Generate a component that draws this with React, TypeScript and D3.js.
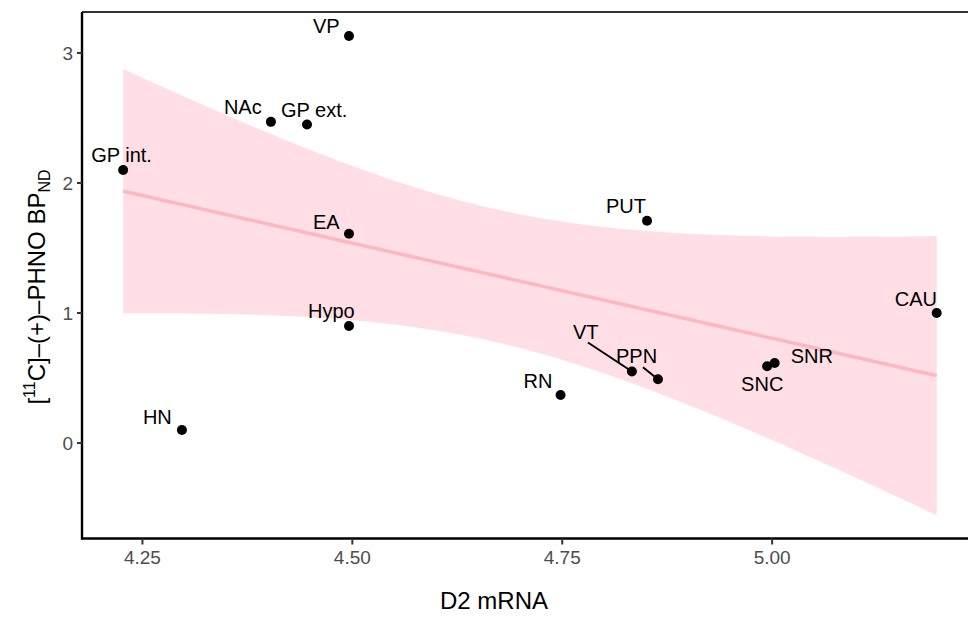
import React from "react";
import * as d3 from "d3";

const WIDTH = 968;
const HEIGHT = 622;

// regions, D2 mRNA and PHNO binding
const regions = ["GP int.", "HN", "NAc", "GP ext.", "VP", "EA", "Hypo", "RN", "VT", "PUT", "PPN", "SNC", "SNR", "CAU"];
const d2mrna = [4.227, 4.297, 4.403, 4.446, 4.496, 4.496, 4.496, 4.748, 4.833, 4.851, 4.864, 4.994, 5.003, 5.196];
const phno = [2.10, 0.10, 2.47, 2.45, 3.13, 1.61, 0.90, 0.37, 0.55, 1.71, 0.49, 0.59, 0.615, 1.00];

const xTicks = [4.25, 4.5, 4.75, 5.0];
const yTicks = [0, 1, 2, 3];

// label placement (text start / baseline, relative to point), like ggrepel left them
const labelOffset: Record<string, [number, number]> = {
  "GP int.": [-32, -8],
  HN: [-39, -6],
  NAc: [-47, -8],
  "GP ext.": [-26, -7],
  VP: [-36, -3],
  EA: [-36, -5],
  Hypo: [-41, -8],
  RN: [-37, -7],
  VT: [-59, -33],
  PUT: [-41, -8],
  PPN: [-42, -16],
  SNC: [-26, 25],
  SNR: [16, 0],
  CAU: [-42, -7],
};
// leader segments start (relative to point)
const segmentStart: Record<string, [number, number]> = {
  VT: [-44, -29],
  PPN: [-15, -12],
};

const T_CRIT = 2.1788; // qt(0.975, df = 12)

const FONT = "'Liberation Sans', Arial, Helvetica, sans-serif";

export default function App() {
  const x = d3.scaleLinear().domain([4.178, 5.244]).range([82, 977]);
  const y = d3.scaleLinear().domain([-0.738, 3.315]).range([539, 12]);

  // linear fit with 95% confidence band (geom_smooth(method = "lm"))
  const n = d2mrna.length;
  const mx = d3.mean(d2mrna)!;
  const my = d3.mean(phno)!;
  let sxx = 0, sxy = 0;
  d2mrna.forEach((v, i) => {
    sxx += (v - mx) ** 2;
    sxy += (v - mx) * (phno[i] - my);
  });
  const slope = sxy / sxx;
  const icpt = my - slope * mx;
  let rss = 0;
  d2mrna.forEach((v, i) => {
    rss += (phno[i] - (icpt + slope * v)) ** 2;
  });
  const s = Math.sqrt(rss / (n - 2));
  const [xmin, xmax] = d3.extent(d2mrna) as [number, number];
  const grid = d3.range(80).map((i) => xmin + ((xmax - xmin) * i) / 79);
  const fit = grid.map((g) => {
    const yhat = icpt + slope * g;
    const se = s * Math.sqrt(1 / n + (g - mx) ** 2 / sxx);
    return { x: g, y: yhat, lo: yhat - T_CRIT * se, hi: yhat + T_CRIT * se };
  });

  const area = d3
    .area<{ x: number; lo: number; hi: number }>()
    .x((d) => x(d.x))
    .y0((d) => y(d.lo))
    .y1((d) => y(d.hi));
  const line = d3
    .line<{ x: number; y: number }>()
    .x((d) => x(d.x))
    .y((d) => y(d.y));

  const left = 82;
  const bottom = 538.5;

  return (
    <div style={{ position: "absolute", left: 0, top: 0 }}>
      <svg width={WIDTH} height={HEIGHT} style={{ display: "block", background: "#fff" }} fontFamily={FONT}>
        <path d={area(fit) || ""} fill="#ffc0cb" fillOpacity={0.5} stroke="none" />
        <path d={line(fit) || ""} fill="none" stroke="#ffb6c1" strokeWidth={3.5} />

        {/* top border */}
        <line x1={left} x2={WIDTH} y1={12} y2={12} stroke="#333" strokeWidth={2} />

        {/* axes */}
        <line x1={left} x2={left} y1={12} y2={bottom + 1} stroke="#000" strokeWidth={2.4} />
        <line x1={left - 1} x2={WIDTH} y1={bottom} y2={bottom} stroke="#000" strokeWidth={2.4} />

        {yTicks.map((t) => (
          <g key={"y" + t}>
            <line x1={left - 5} x2={left} y1={y(t)} y2={y(t)} stroke="#333" strokeWidth={2} />
            <text x={left - 9} y={y(t)} dy="0.35em" textAnchor="end" fontSize={19} fill="#4d4d4d">
              {t}
            </text>
          </g>
        ))}
        {xTicks.map((t) => (
          <g key={"x" + t}>
            <line x1={x(t)} x2={x(t)} y1={bottom} y2={bottom + 6} stroke="#333" strokeWidth={2} />
            <text x={x(t)} y={564} textAnchor="middle" fontSize={19} fill="#4d4d4d">
              {t.toFixed(2)}
            </text>
          </g>
        ))}

        {/* label segments */}
        {regions.map((r, i) => {
          const seg = segmentStart[r];
          if (!seg) return null;
          const px = x(d2mrna[i]);
          const py = y(phno[i]);
          return (
            <line key={"s" + r} x1={px + seg[0]} y1={py + seg[1]} x2={px} y2={py} stroke="#000" strokeWidth={2} />
          );
        })}

        {/* labels */}
        {regions.map((r, i) => {
          const [dx, dy] = labelOffset[r];
          return (
            <text key={"l" + r} x={x(d2mrna[i]) + dx} y={y(phno[i]) + dy} fontSize={20} fill="#000">
              {r}
            </text>
          );
        })}

        {/* points */}
        {regions.map((r, i) => (
          <circle key={"p" + r} cx={x(d2mrna[i])} cy={y(phno[i])} r={5} fill="#000" />
        ))}

        {/* axis titles */}
        <text x={494} y={609} textAnchor="middle" fontSize={24} fill="#000">
          D2 mRNA
        </text>
        <text transform={`translate(45,287) rotate(-90)`} textAnchor="middle" fontSize={24} fill="#000">
          [<tspan fontSize={16} dy={-10}>11</tspan>
          <tspan dy={10}>C]–(+)–PHNO BP</tspan>
          <tspan fontSize={16} dy={5}>ND</tspan>
        </text>
      </svg>
    </div>
  );
}
